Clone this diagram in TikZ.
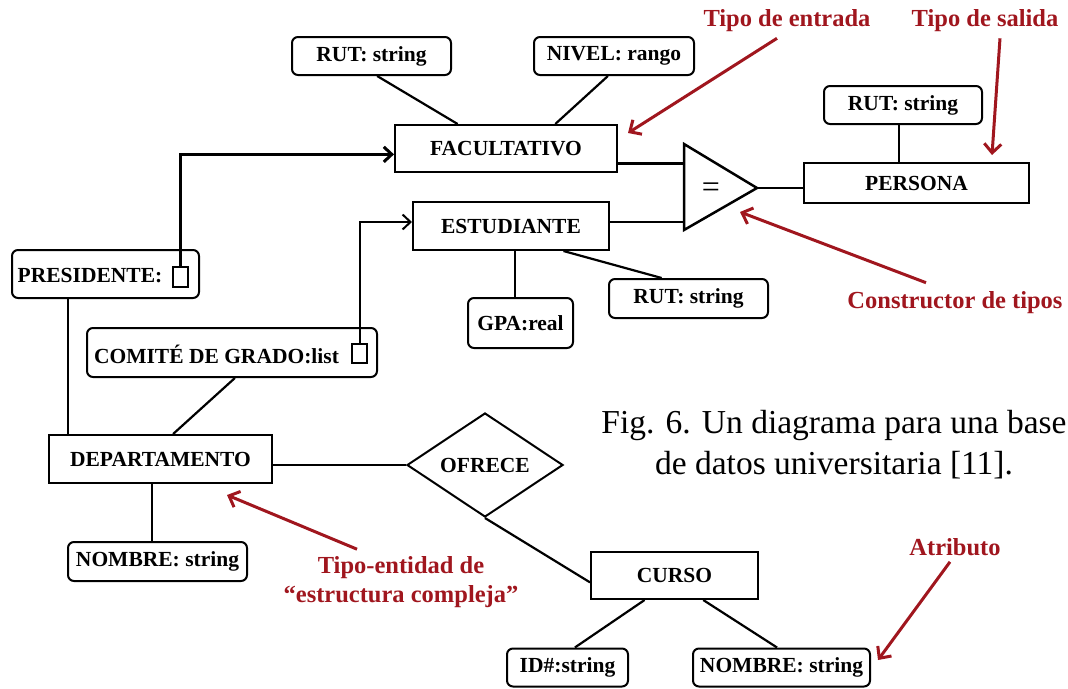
\documentclass[tikz,border=0pt]{standalone}
\usepackage{fontspec}
\setmainfont{Liberation Serif}
\usetikzlibrary{arrows.meta,calc,shapes.geometric}
\definecolor{annot}{RGB}{160,22,30}
\tikzset{
  ent/.style={draw, line width=2pt, inner sep=0pt, font=\fontsize{21.5}{24}\selectfont\bfseries},
  attr/.style={ent, rounded corners=6pt},
  rel/.style={ent, shape=diamond},
  lbl/.style={inner sep=0pt, font=\fontsize{21.5}{24}\selectfont\bfseries},
  sq/.style={draw, line width=1.1pt, inner sep=0pt, minimum width=15pt, minimum height=20pt},
  link/.style={line width=2.2pt},
  thicklink/.style={line width=3pt},
  typearrow/.style={-{Straight Barb[length=8pt,width=15pt]}},
  note/.style={text=annot, inner sep=0pt, align=center, font=\fontsize{24.5}{29}\selectfont\bfseries},
  notearrow/.style={draw=annot, line width=3pt, -{Straight Barb[length=9pt,width=17pt]}},
}
\begin{document}
\begin{tikzpicture}[x=1pt,y=-1pt]
\useasboundingbox (0,0) rectangle (1068,688);

% entity types
\node[ent, minimum width=222pt, minimum height=47pt] (fac) at (506,148.5) {FACULTATIVO};
\node[ent, minimum width=196pt, minimum height=48pt] (est) at (511,226) {ESTUDIANTE};
\node[ent, minimum width=225pt, minimum height=40pt] (persona) at (916.5,183) {PERSONA};
\node[ent, minimum width=223pt, minimum height=48pt] (dep) at (160.5,459) {DEPARTAMENTO};
\node[ent, minimum width=167pt, minimum height=47pt] (curso) at (674.5,575.5) {CURSO};

% attributes
\node[attr, minimum width=159pt, minimum height=38pt] (rutF) at (371.5,56) {RUT: string};
\node[attr, minimum width=160pt, minimum height=38pt] (nivel) at (614,56) {NIVEL: rango};
\node[attr, minimum width=158pt, minimum height=38pt] (rutP) at (903,105) {RUT: string};
\node[attr, minimum width=105pt, minimum height=50pt] (gpa) at (520.5,323) {GPA:real};
\node[attr, minimum width=159pt, minimum height=39pt] (rutE) at (688.5,298.5) {RUT: string};
\node[attr, minimum width=179pt, minimum height=39pt] (nomD) at (157.5,561.5) {NOMBRE: string};
\node[attr, minimum width=121pt, minimum height=38pt] (idC) at (567.5,667.5) {ID\#:string};
\node[attr, minimum width=177pt, minimum height=38pt] (nomC) at (781.5,667.5) {NOMBRE: string};

% complex-structure attributes
\node[attr, minimum width=187pt, minimum height=48pt] (pres) at (105.5,274) {};
\node[lbl] (presTxt) at (90,276) {PRESIDENTE:};
\node[sq] (presSq) at (180.5,277) {};
\node[attr, minimum width=290pt, minimum height=49pt] (com) at (232,352.5) {};
\node[lbl] (comTxt) at (216.5,354) {COMITÉ DE GRADO:list};
\node[sq, minimum height=19pt] (comSq) at (359.5,353.5) {};

% relationship
\node[rel, minimum width=156pt, minimum height=77pt] (ofrece) at (485,465) {OFRECE};

% type constructor
\coordinate (triTop) at (684,144);
\coordinate (triBot) at (684,230);
\coordinate (triApex) at (757,188);
\draw[line width=2.5pt, line join=miter] (triTop) -- (triApex) -- (triBot) -- cycle;
\node[inner sep=0pt, font=\fontsize{32}{32}\selectfont] (eq) at (711,190) {=};

% attribute links
\draw[link] ($(rutF.south west)!0.535!(rutF.south east)$) -- ($(fac.north west)!0.284!(fac.north east)$);
\draw[link] ($(nivel.south west)!0.4625!(nivel.south east)$) -- ($(fac.north west)!0.72!(fac.north east)$);
\draw[link] ($(rutP.south west)!0.475!(rutP.south east)$) coordinate (rp) -- (rp |- persona.north);
\draw[link] ($(gpa.north west)!0.45!(gpa.north east)$) coordinate (gp) -- (gp |- est.south);
\draw[link] ($(est.south west)!0.765!(est.south east)$) -- ($(rutE.north west)!0.333!(rutE.north east)$);
\draw[link] ($(pres.south west)!0.30!(pres.south east)$) coordinate (ps) -- (ps |- dep.north);
\draw[link] ($(com.south west)!0.51!(com.south east)$) -- ($(dep.north west)!0.556!(dep.north east)$);
\draw[link] ($(nomD.north west)!0.469!(nomD.north east)$) coordinate (nd) -- (nd |- dep.south);
\draw[link] (ofrece.west) -- (ofrece.west -| dep.east);
\draw[link] (ofrece.south) -- ($(curso.north west)!0.64!(curso.south west)$);
\draw[link] ($(curso.south west)!0.323!(curso.south east)$) -- ($(idC.north west)!0.56!(idC.north east)$);
\draw[link] ($(curso.south west)!0.67!(curso.south east)$) -- ($(nomC.north west)!0.475!(nomC.north east)$);

% inputs and output of the constructor
\draw[thicklink] ($(fac.north east)!0.81!(fac.south east)$) coordinate (fi) -- (fi -| triTop);
\draw[link, line width=2.5pt] ($(est.north east)!0.42!(est.south east)$) coordinate (ei) -- (ei -| triTop);
\draw[link] (triApex) -- (triApex -| persona.west);

% references to entity types
\draw[thicklink, typearrow] (presSq.north) |- ($(fac.north west)!0.62!(fac.south west)$);
\draw[link, line width=2pt, typearrow] (comSq.north) |- ($(est.north west)!0.42!(est.south west)$);

% annotations
\node[note] (nEntrada) at (787,21) {Tipo de entrada};
\node[note] (nSalida) at (985,21) {Tipo de salida};
\node[note] (nConstr) at (955,303) {Constructor de tipos};
\node[note] (nCompleja) at (401,582) {Tipo-entidad de\\``estructura compleja''};
\node[note] (nAtributo) at (955,547) {Atributo};

\coordinate (tipEntrada) at (628,133);
\coordinate (tipSalida) at (992,155);
\coordinate (tipConstr) at (740,212);
\coordinate (tipCompleja) at (227,495);
\coordinate (tipAtributo) at (878,660);
\draw[notearrow] ([xshift=-10pt,yshift=-6pt]nEntrada.south) -- (tipEntrada);
\draw[notearrow] ([xshift=15pt,yshift=-6pt]nSalida.south) -- (tipSalida);
\draw[notearrow] ([xshift=-29pt,yshift=9pt]nConstr.north) -- (tipConstr);
\draw[notearrow] ([xshift=-44pt,yshift=7pt]nCompleja.north) -- (tipCompleja);
\draw[notearrow] ([xshift=-5pt,yshift=-6pt]nAtributo.south) -- (tipAtributo);

% caption
\node[inner sep=0pt, align=center, font=\fontsize{33.5}{41}\selectfont] (caption) at (834,445)
  {Fig. 6. Un diagrama para una base\\de datos universitaria [11].};
\end{tikzpicture}
\end{document}
